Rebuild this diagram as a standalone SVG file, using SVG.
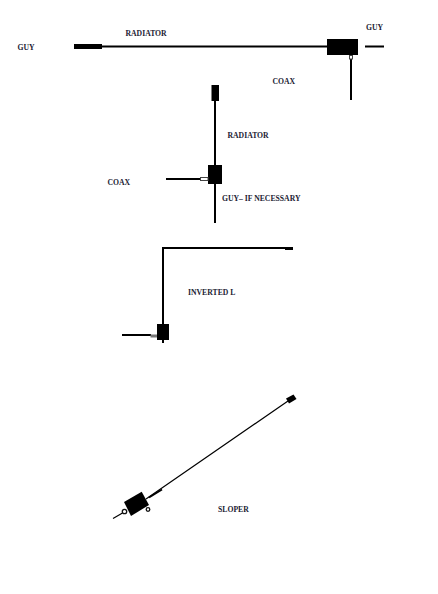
<svg xmlns="http://www.w3.org/2000/svg" width="438" height="594" viewBox="0 0 438 594">
<style>
text{font-family:"Liberation Serif","Times New Roman",serif;font-size:7.700px;font-weight:bold;fill:#222233}
.w{stroke:#000;fill:none;stroke-width:2}
.b{fill:#000}
.c{fill:#fff;stroke:#444;stroke-width:1}
</style>
<rect width="438" height="594" fill="#fff"/>
<g id="connectors">
<path class="w" d="M102 46.500H327M365 46.500H384M351 59V100"/>
<path class="w" d="M215 100V165M215 184V223M166 179H200"/>
<path class="w" d="M163 324V248H285M163 340V343M122 335H151"/>
<path class="w" style="stroke-width:1.200" d="M146 499L288 401M113 518.500L122.500 513"/>
<path class="w" style="stroke-width:1.800" d="M149 497.500L162 489.500"/>
</g>
<g id="horizontal-dipole">
<rect class="b" x="74" y="44" width="28" height="5"/>
<rect class="b" x="327" y="39" width="31" height="16"/>
<rect class="c" x="349.500" y="55.500" width="3" height="3.500"/>
<text x="125.500" y="36">RADIATOR</text>
<text x="17.500" y="50">GUY</text>
<text x="366" y="30">GUY</text>
<text x="272.500" y="84">COAX</text>
</g>
<g id="vertical-dipole">
<rect class="b" x="211.500" y="85" width="7.500" height="16"/>
<rect class="b" x="208" y="165" width="14" height="19"/>
<rect class="c" x="200.500" y="177.500" width="7.500" height="3"/>
<text x="227.500" y="138">RADIATOR</text>
<text x="107.500" y="185">COAX</text>
<text x="222" y="201">GUY– IF NECESSARY</text>
</g>
<g id="inverted-l">
<rect class="b" x="285" y="247" width="8" height="3"/>
<rect class="b" x="157" y="324" width="12" height="16"/>
<rect x="150.500" y="334.500" width="6.500" height="3" fill="#777"/>
<text x="188" y="295">INVERTED L</text>
</g>
<g id="sloper">
<polygon class="b" points="124,502 141.700,491.700 149,505 131,516"/>
<polygon class="b" points="286,398.500 293.500,394.500 296.500,399 289,403.500"/>
<circle cx="124.500" cy="511.500" r="2.200" fill="#fff" stroke="#111" stroke-width="1.300"/>
<circle cx="148" cy="509.500" r="1.800" fill="#fff" stroke="#111" stroke-width="1.300"/>
<text x="218" y="512">SLOPER</text>
</g>
</svg>
